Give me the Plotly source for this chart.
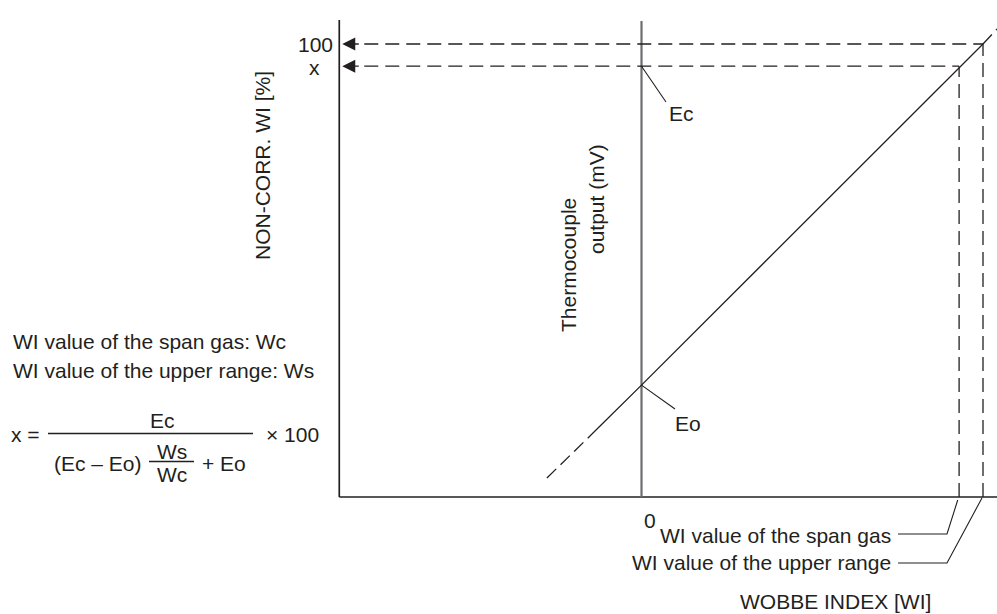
import plotly.graph_objects as go

# ---- values (WI units on x, % on y) ----
WI_ZERO = 0.0          # thermocouple axis position
WI_SPAN = 93.0         # WI value of the span gas (Wc)
WI_UPPER = 100.0       # WI value of the upper range (Ws)
WI_AXIS_LEFT = -88.5   # left (NON-CORR. WI) axis position
WI_AXIS_RIGHT = 104.2
PCT_FULL = 100.0       # "100"
PCT_X = 95.1           # "x"
PCT_EO = 24.7          # Eo (thermocouple output at WI = 0)
PCT_TOP = 105.3        # top of the axes lines

# response line: dashed extrapolation, solid part, dashed extension
LINE_LOW_X = [-27.7, -14.5]
LINE_LOW_Y = [4.2, 13.9]
LINE_SOLID_X = [-14.5, WI_ZERO, WI_UPPER]
LINE_SOLID_Y = [13.9, PCT_EO, PCT_FULL]
LINE_EXT_X = [WI_UPPER, 104.1]
LINE_EXT_Y = [PCT_FULL, 103.3]

# ---- pixel scale of the reference figure (layout only) ----
W, H = 997, 614
X0_PX, X_PER = 641.5, 3.415
Y0_PX, Y_PER = 497.0, 4.53

def dx(p):  # pixel -> data x
    return (p - X0_PX) / X_PER

def dy(p):  # pixel -> data y
    return (Y0_PX - p) / Y_PER

def fx(p):  # pixel -> paper x
    return p / W

def fy(p):  # pixel -> paper y
    return 1 - p / H

INK = "#231f20"
GRAY = "#6d6e71"
FONT = dict(family="Liberation Sans, Arial, sans-serif", size=21, color=INK)
DASH = "14px,7px"

fig = go.Figure()

def line(xs, ys, color=INK, width=1.3, dash="solid"):
    fig.add_trace(go.Scatter(x=xs, y=ys, mode="lines", hoverinfo="skip",
                             showlegend=False,
                             line=dict(color=color, width=width, dash=dash)))

# axes
line([WI_AXIS_LEFT, WI_AXIS_LEFT], [0, PCT_TOP], width=1.7)
line([WI_AXIS_LEFT, WI_AXIS_RIGHT], [0, 0], width=1.7)
# thermocouple output axis
line([WI_ZERO, WI_ZERO], [0, PCT_TOP - 0.2], color=GRAY, width=2.2)

# response line
line(LINE_LOW_X, LINE_LOW_Y, dash="13px,6px")
line(LINE_SOLID_X, LINE_SOLID_Y)
line(LINE_EXT_X, LINE_EXT_Y, dash="13px,6px")

# projection lines
ARROW_LEN = 18  # px
line([WI_AXIS_LEFT + (ARROW_LEN + 7) / X_PER, WI_UPPER], [PCT_FULL, PCT_FULL], dash=DASH)
line([WI_AXIS_LEFT + (ARROW_LEN + 7) / X_PER, WI_SPAN], [PCT_X, PCT_X], dash=DASH)
line([WI_UPPER, WI_UPPER], [0, PCT_FULL], dash=DASH)
line([WI_SPAN, WI_SPAN], [0, PCT_X], dash=DASH)

# leader lines
line([WI_ZERO, dx(666)], [PCT_X, dy(102)], width=1.1)
line([WI_ZERO, dx(675)], [PCT_EO, dy(409)], width=1.1)
line([dx(898), dx(947), WI_SPAN - 0.4], [dy(534), dy(534), dy(500)], width=1.1)
line([dx(898), dx(947), WI_UPPER - 0.3], [dy(563), dy(563), dy(498)], width=1.1)

ann = []
for yv in (PCT_FULL, PCT_X):
    ann.append(dict(x=WI_AXIS_LEFT + 3 / X_PER, y=yv, xref="x", yref="y",
                    ax=ARROW_LEN, ay=0, text="", showarrow=True,
                    arrowhead=2, arrowsize=2.0, arrowwidth=1.3,
                    arrowcolor=INK, standoff=0))

def txt(s, x, y, xanchor="center", angle=0, size=None):
    f = dict(FONT)
    if size:
        f["size"] = size
    ann.append(dict(text=s, x=fx(x), y=fy(y), xref="paper", yref="paper",
                    xanchor=xanchor, yanchor="middle", showarrow=False,
                    textangle=angle, font=f))

txt("100", 315, 44)
txt("x", 314, 67)
txt("0", 650, 520)
txt("Ec", 681, 114)
txt("Eo", 688, 423)
txt("NON-CORR. WI [%]", 262, 166, angle=-90)
txt("Thermocouple", 568, 265, angle=-90)
txt("output (mV)", 597, 199, angle=-90)
txt("WI value of the span gas", 893, 535, xanchor="right")
txt("WI value of the upper range", 893, 562, xanchor="right")
txt("WOBBE INDEX [WI]", 835, 601)

# formula block
txt("WI value of the span gas: Wc", 11, 341, xanchor="left")
txt("WI value of the upper range: Ws", 11, 370, xanchor="left")
txt("x =", 9, 434, xanchor="left")
txt("Ec", 162, 420)
txt("× 100", 264, 434, xanchor="left")
txt("(Ec – Eo)", 52, 463, xanchor="left")
txt("Ws", 172, 451)
txt("Wc", 172, 474)
txt("+ Eo", 200, 463, xanchor="left")

shapes = [
    dict(type="line", xref="paper", yref="paper", x0=fx(48), x1=fx(253),
         y0=fy(433.5), y1=fy(433.5), line=dict(color=INK, width=1.3)),
    dict(type="line", xref="paper", yref="paper", x0=fx(149), x1=fx(194),
         y0=fy(461.5), y1=fy(461.5), line=dict(color=INK, width=1.3)),
]

fig.update_layout(
    width=W, height=H,
    margin=dict(l=0, r=0, t=0, b=0),
    paper_bgcolor="white", plot_bgcolor="white",
    xaxis=dict(visible=False, range=[dx(0), dx(W)], fixedrange=True),
    yaxis=dict(visible=False, range=[dy(H), dy(0)], fixedrange=True),
    annotations=ann, shapes=shapes,
    font=FONT,
)

fig.write_html("out.html", config={"displayModeBar": False},
               post_script="document.body.style.margin='0';document.body.style.overflow='hidden';")
